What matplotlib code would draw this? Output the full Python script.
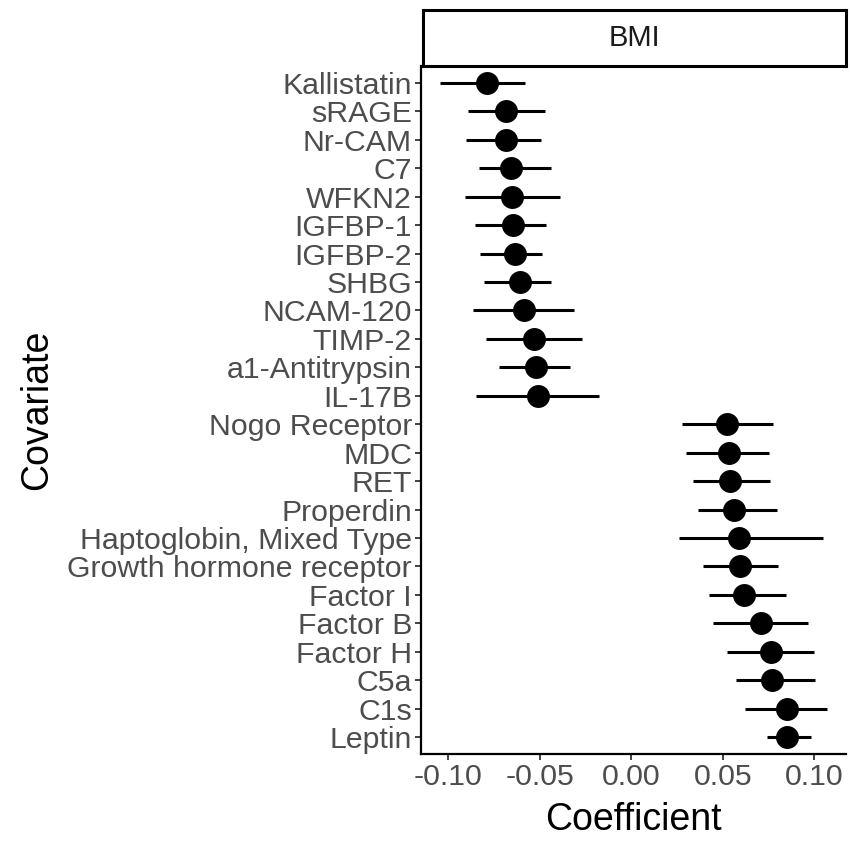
import matplotlib
matplotlib.use("Agg")
import matplotlib.pyplot as plt

plt.rcParams['font.family'] = ['Liberation Sans', 'DejaVu Sans']

# covariates top to bottom, with coefficient and 95% interval for BMI
covariates = ["Kallistatin", "sRAGE", "Nr-CAM", "C7", "WFKN2", "IGFBP-1",
              "IGFBP-2", "SHBG", "NCAM-120", "TIMP-2", "a1-Antitrypsin", "IL-17B",
              "Nogo Receptor", "MDC", "RET", "Properdin", "Haptoglobin, Mixed Type",
              "Growth hormone receptor", "Factor I", "Factor B", "Factor H", "C5a",
              "C1s", "Leptin"]
coef = [-0.0790, -0.0686, -0.0683, -0.0657, -0.0652, -0.0648,
        -0.0637, -0.0608, -0.0585, -0.0530, -0.0523, -0.0509,
        0.0521, 0.0534, 0.0539, 0.0561, 0.0588,
        0.0592, 0.0617, 0.0708, 0.0762, 0.0770,
        0.0851, 0.0851]
lower = [-0.1044, -0.0892, -0.0901, -0.0835, -0.0910, -0.0853,
         -0.0826, -0.0804, -0.0863, -0.0795, -0.0723, -0.0850,
         0.0279, 0.0297, 0.0334, 0.0363, 0.0258,
         0.0392, 0.0426, 0.0448, 0.0525, 0.0573,
         0.0623, 0.0742]
upper = [-0.0581, -0.0474, -0.0496, -0.0441, -0.0392, -0.0465,
         -0.0487, -0.0438, -0.0313, -0.0272, -0.0336, -0.0178,
         0.0775, 0.0753, 0.0757, 0.0793, 0.1047,
         0.0802, 0.0846, 0.0967, 0.0998, 0.1005,
         0.1067, 0.0984]
xticks = [-0.10, -0.05, 0.00, 0.05, 0.10]

n = len(covariates)
ypos = list(range(n, 0, -1))

fig = plt.figure(figsize=(8.5, 8.41), dpi=100)
ax = fig.add_axes([421 / 850, 1 - 754 / 841, 425 / 850, 688 / 841])

ax.hlines(ypos, lower, upper, color="black", linewidth=2.2, zorder=2)
ax.plot(coef, ypos, "o", color="black", markersize=15.5, zorder=3)

ax.set_ylim(0.4, n + 0.6)
xmin, xmax = min(lower), max(upper)
pad = (xmax - xmin) * 0.05
ax.set_xlim(xmin - pad, xmax + pad)

ax.set_yticks(ypos)
ax.set_yticklabels(covariates)
ax.set_xticks(xticks)
ax.set_xticklabels([f"{t:.2f}" for t in xticks])

for side in ["top", "right"]:
    ax.spines[side].set_visible(False)
for side in ["left", "bottom"]:
    ax.spines[side].set_linewidth(1.6)
ax.tick_params(axis="both", labelsize=21.8, labelcolor="#4D4D4D",
               color="#333333", length=4, width=1.3, pad=2.5)

ax.set_xlabel("Coefficient", fontsize=27, labelpad=8)
ax.set_ylabel("Covariate", fontsize=27, labelpad=9)

# facet strip on top
strip = fig.add_axes([423 / 850, 1 - 66 / 841, 423 / 850, 56 / 841])
strip.set_xticks([])
strip.set_yticks([])
for s in strip.spines.values():
    s.set_linewidth(2.2)
strip.text(0.5, 0.5, "BMI", ha="center", va="center", fontsize=21,
           color="#1A1A1A", transform=strip.transAxes)

fig.savefig("out.png", dpi=100)
